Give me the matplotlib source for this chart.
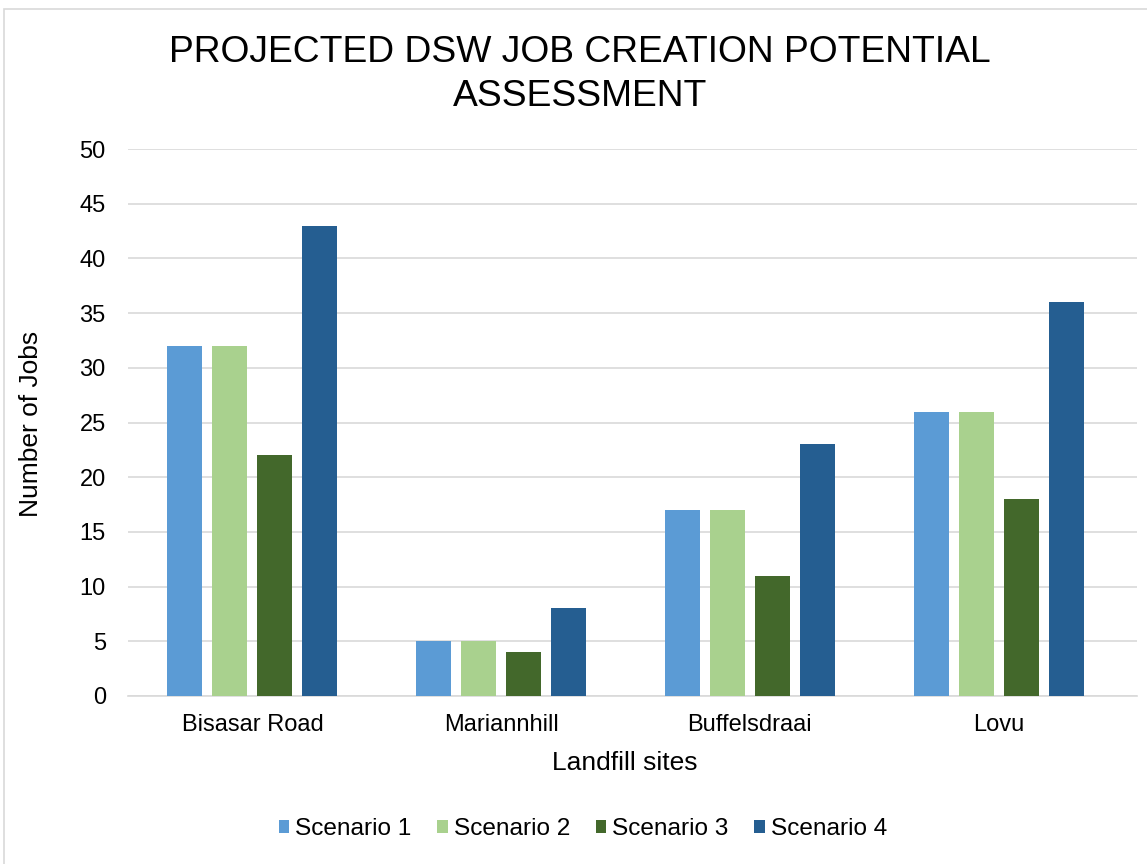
import matplotlib
matplotlib.use("Agg")
import matplotlib.pyplot as plt
from matplotlib.patches import Rectangle
import numpy as np

plt.rcParams['font.family'] = ['Liberation Sans', 'DejaVu Sans']

sites = ["Bisasar Road", "Mariannhill", "Buffelsdraai", "Lovu"]
series_names = ["Scenario 1", "Scenario 2", "Scenario 3", "Scenario 4"]
scenario1 = [32, 5, 17, 26]
scenario2 = [32, 5, 17, 26]
scenario3 = [22, 4, 11, 18]
scenario4 = [43, 8, 23, 36]
colors = ["#5b9bd5", "#a9d18e", "#43682b", "#255e91"]

W, H = 1147, 864
fig = plt.figure(figsize=(W / 100, H / 100), dpi=100)
fig.patch.set_facecolor("white")

# chart frame
fig.add_artist(Rectangle((4 / W, -0.01), 1.02, 1 - 9 / H + 0.01,
                         transform=fig.transFigure, fill=False,
                         edgecolor="#d9d9d9", linewidth=1.2))

ax = fig.add_axes([128 / W, 1 - 696 / H, (1137 - 128) / W, (696 - 149) / H])

x = np.arange(len(sites))
bw = 0.141
step = 0.181
all_series = [scenario1, scenario2, scenario3, scenario4]
for i, (vals, name, c) in enumerate(zip(all_series, series_names, colors)):
    ax.bar(x + (i - 1.5) * step, vals, width=bw, color=c, label=name, zorder=3)

ax.set_xlim(-0.5, len(sites) - 0.5 + 0.056)
ax.set_ylim(0, 50)
ax.set_yticks(range(0, 51, 5))
ax.set_xticks(x)
ax.set_xticklabels(sites)
ax.yaxis.grid(True, color="#d9d9d9", linewidth=1.2, zorder=0)
ax.set_axisbelow(True)
for s in ["top", "right", "left"]:
    ax.spines[s].set_visible(False)
ax.spines["bottom"].set_color("#d9d9d9")
ax.spines["bottom"].set_linewidth(1.2)
ax.tick_params(axis="both", length=0, labelsize=17, colors="black")
ax.tick_params(axis="y", pad=16)
ax.tick_params(axis="x", pad=13)

fig.text(625 / W, 1 - 763 / H, "Landfill sites", ha="center", va="center", fontsize=19)
fig.text(31 / W, 1 - 424 / H, "Number of Jobs", ha="center", va="center",
         fontsize=19, rotation=90)

fig.text(580 / W, 1 - 52 / H, "PROJECTED DSW JOB CREATION POTENTIAL",
         ha="center", va="center", fontsize=26.8)
fig.text(580 / W, 1 - 97 / H, "ASSESSMENT",
         ha="center", va="center", fontsize=26.8)

fig.legend(loc="center", bbox_to_anchor=(583 / W, 1 - 829 / H), ncol=4,
           frameon=False, fontsize=17.6, handlelength=0.42, handleheight=0.42,
           handletextpad=0.25, columnspacing=1.05)

fig.savefig("out.png", dpi=100, facecolor="white")
